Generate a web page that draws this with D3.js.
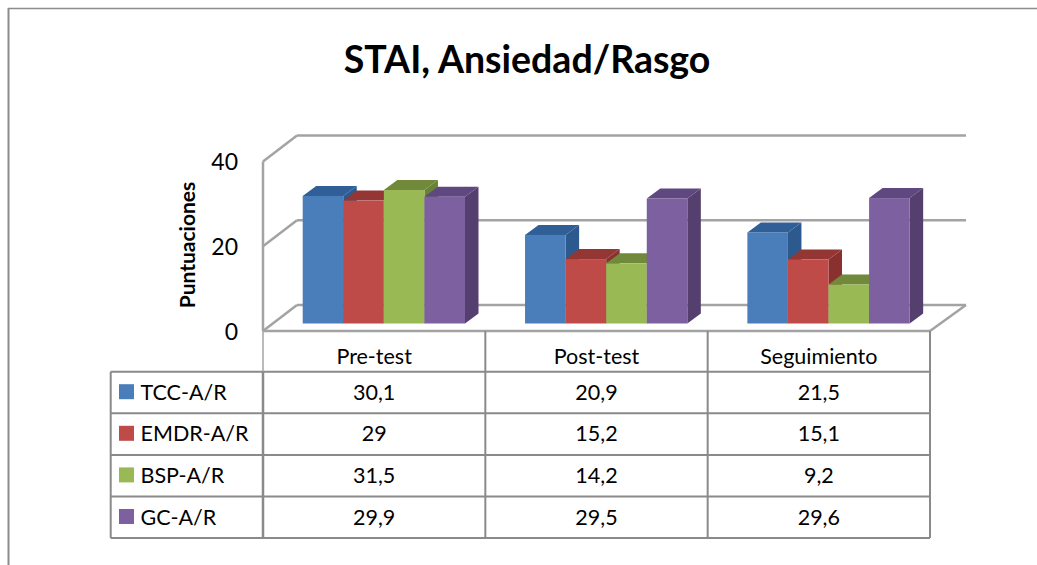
<!DOCTYPE html>
<html><head><meta charset="utf-8">
<script src="https://cdn.jsdelivr.net/npm/d3@7"></script>
<style>html,body{margin:0;padding:0;background:#fff}svg{display:block}text{font-family:Lato,Carlito,sans-serif;fill:#000}</style>
</head><body><svg id="c" width="1037" height="565"></svg>
<script>
const categories = ["Pre-test","Post-test","Seguimiento"];
const seriesNames = ["TCC-A/R","EMDR-A/R","BSP-A/R","GC-A/R"];
const tcc = [30.1,20.9,21.5];
const emdr = [29,15.2,15.1];
const bsp = [31.5,14.2,9.2];
const gc = [29.9,29.5,29.6];
const yTicks = [0,20,40];
const frontColors = ["#4a7ebb","#be4b48","#98b954","#7d60a0"];
const topColors = ["#2f5f96","#943634","#71893a","#5f4780"];
const sideColors = ["#2c5a8f","#8a302e","#6a8236","#553f6e"];
const seriesValues = [tcc,emdr,bsp,gc];

const svg = d3.select("#c");
const x = d3.scaleBand().domain(categories).range([263,930]);
const y = d3.scaleLinear().domain([0,40]).range([331,161.5]);
const wallDx = 34, wallDy = -26, barDx = 13.5, barDy = -10, baseDy = -7.5;
const inner = d3.scaleBand().domain(seriesNames).range([39.7,202]);
const grid = "#a3a3a3", rule = "#8a8a8a";
const line = (g,x1,y1,x2,y2,c,w)=>g.append("line").attr("x1",x1).attr("y1",y1).attr("x2",x2).attr("y2",y2).attr("stroke",c).attr("stroke-width",w);

// outer frame
const frame = svg.append("g");
line(frame,8,8.5,1037,8.5,"#8c8c8c",1.5);
line(frame,8.5,8,8.5,565,"#8c8c8c",2);

svg.append("text").attr("x",527).attr("y",73).attr("text-anchor","middle")
  .attr("font-size",37.5).attr("font-weight",700).text("STAI, Ansiedad/Rasgo");

// walls and floor
const walls = svg.append("g");
const xR = x.range()[1], xL = x.range()[0];
yTicks.forEach(t=>{
  line(walls,xL,y(t),xL+wallDx,y(t)+wallDy,grid,2.5);
  line(walls,xL+wallDx,y(t)+wallDy,xR+36,y(t)+wallDy,grid,2.5);
});
line(walls,xL,y(40),xL,y(0),grid,2.5);
line(walls,xL,y(0),xR,y(0),grid,2.5);
line(walls,xR,y(0),xR+36,y(0)+wallDy,grid,2.5);

// axis labels
yTicks.forEach(t=>svg.append("text").attr("x",238).attr("y",y(t)+8.5).attr("text-anchor","end").attr("font-size",23).text(t));
svg.append("text").attr("transform","translate(195,245) rotate(-90)").attr("text-anchor","middle")
  .attr("font-size",21).attr("font-weight",700).text("Puntuaciones");

// bars
const bars = svg.append("g");
const poly = (pts,c)=>bars.append("polygon").attr("points",pts.map(p=>p.join(",")).join(" ")).attr("fill",c);
categories.forEach((cat,ci)=>{
  seriesNames.forEach((s,si)=>{
    const v = seriesValues[si][ci];
    const x0 = x(cat)+inner(s), x1 = x0+inner.bandwidth();
    const yB = y(0)+baseDy, yT = y(v)+baseDy;
    poly([[x1,yT],[x1+barDx,yT+barDy],[x1+barDx,yB+barDy],[x1,yB]],sideColors[si]);
    poly([[x0,yT],[x0+barDx,yT+barDy],[x1+barDx,yT+barDy],[x1,yT]],topColors[si]);
    bars.append("rect").attr("x",x0).attr("y",yT).attr("width",x1-x0).attr("height",yB-yT).attr("fill",frontColors[si]);
  });
});

// data table
const tableTop = y(0), headBottom = 371.7, rowH = 41.6, labelX = 110.7;
const table = svg.append("g");
const rows = d3.range(seriesNames.length+1).map(i=>headBottom+i*rowH);
const tableBottom = rows[rows.length-1];
rows.forEach(r=>line(table,labelX,r,xR,r,rule,2));
line(table,labelX,headBottom,labelX,tableBottom,rule,2);
line(table,xL,tableTop,xL,headBottom,grid,1.5);
line(table,xL,headBottom,xL,tableBottom,rule,2.5);
categories.forEach(c=>line(table,x(c)+x.bandwidth(),tableTop,x(c)+x.bandwidth(),tableBottom,rule,2));
categories.forEach(c=>svg.append("text").attr("x",x(c)+x.bandwidth()/2).attr("y",tableTop+33).attr("text-anchor","middle").attr("font-size",21.5).text(c));
seriesNames.forEach((s,si)=>{
  const ry = rows[si];
  svg.append("rect").attr("x",119).attr("y",ry+12.5).attr("width",15).attr("height",15).attr("fill",frontColors[si]);
  svg.append("text").attr("x",140.5).attr("y",ry+28).attr("font-size",21.5).text(s);
  categories.forEach((c,ci)=>svg.append("text").attr("x",x(c)+x.bandwidth()/2).attr("y",ry+28)
    .attr("text-anchor","middle").attr("font-size",21.5).text(String(seriesValues[si][ci]).replace(".",",")));
});
</script></body></html>
